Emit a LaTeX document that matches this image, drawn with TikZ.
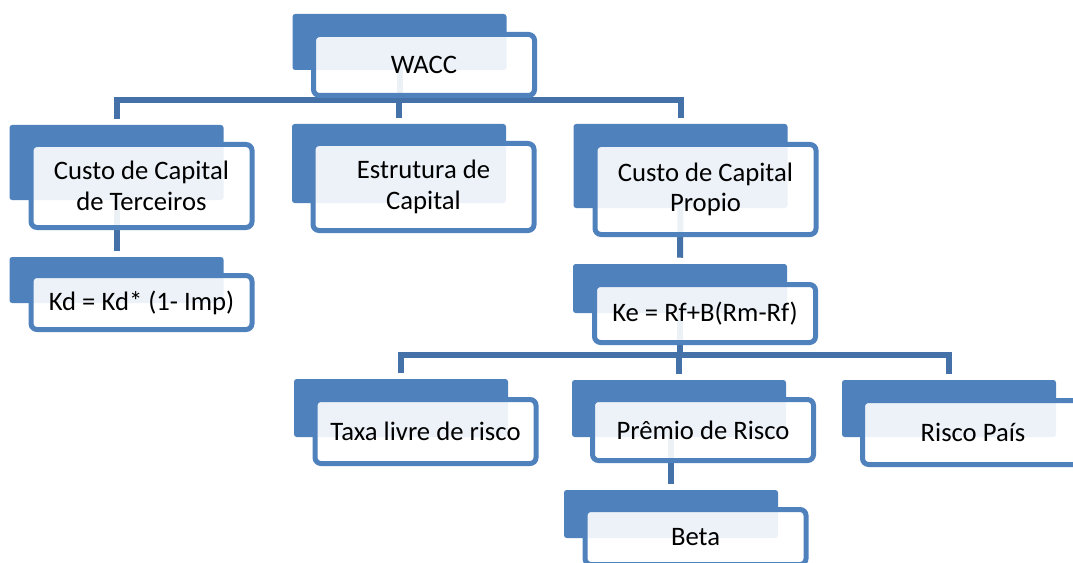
\documentclass[tikz,border=0pt]{standalone}
\usepackage{fontspec}
\setmainfont{Carlito}
\begin{document}
\begin{tikzpicture}[
        x=0.75pt, y=-0.75pt,
    ]

    \definecolor{accent}{RGB}{79,129,189}
    \definecolor{linkblue}{RGB}{68,114,168}

    \tikzstyle{back} = [rectangle, rounded corners=2pt, fill=accent, inner sep=0pt,
                        minimum width=160.5pt];
    \tikzstyle{front} = [rectangle, rounded corners=4.5pt, draw=accent, line width=3.75pt,
                         fill=white, fill opacity=0.9, text opacity=1, align=center,
                         minimum width=165.75pt, inner sep=0pt,
                         font=\fontsize{20}{23}\selectfont];
    \tikzstyle{link} = [draw=linkblue, line width=4.5pt];

    \useasboundingbox (0,0) rectangle (1073,563);
    \clip (0,0) rectangle (1073,563);

    % Back plates
    \node[back, minimum height=42pt] (wacc-b) at (399.5,42) {};
    \node[back, minimum height=56.25pt] (terc-b) at (116.5,162.5) {};
    \node[back, minimum height=59.25pt] (estr-b) at (399,163.5) {};
    \node[back, minimum height=63pt] (prop-b) at (680.5,166) {};
    \node[back, minimum height=34.5pt] (kd-b) at (116.5,280) {};
    \node[back, minimum height=36.75pt] (ke-b) at (680,288.5) {};
    \node[back, minimum height=43.5pt] (taxa-b) at (401,408) {};
    \node[back, minimum height=42.75pt] (prem-b) at (679,408.5) {};
    \node[back, minimum height=42.75pt] (risco-b) at (949,408.5) {};
    \node[back, minimum height=36pt] (beta-b) at (671,514) {};

    \coordinate (bar1) at (399.5,100);
    \coordinate (bar2) at (680,355);

    % Links
    \draw[link] (wacc-b.south) -- (bar1);
    \draw[link, shorten <=4.5pt, shorten >=4.5pt] (terc-b.north) |- (bar1) -| (prop-b.north);
    \draw[link, shorten >=4.5pt] (bar1 -| estr-b.north) -- (estr-b.north);
    \draw[link, shorten >=4.5pt] (terc-b.south) -- (kd-b.north);
    \draw[link, shorten >=4.5pt] (prop-b.south) -- (ke-b.north);
    \draw[link] (ke-b.south) -- (bar2);
    \draw[link, shorten <=4.5pt, shorten >=4.5pt] (taxa-b.north) |- (bar2) -| (risco-b.north);
    \draw[link, shorten >=4.5pt] (bar2 -| prem-b.north) -- (prem-b.north);
    \draw[link, shorten >=4.5pt] (beta-b.north |- prem-b.south) -- (beta-b.north);

    % Nodes
    \node[front, minimum height=45.75pt] (wacc) at (424,65) {WACC};
    \node[front, minimum height=62.25pt] (terc) at (141.5,186) {Custo de Capital\\de Terceiros};
    \node[front, minimum height=65.25pt] (estr) at (423.5,187) {Estrutura de\\Capital};
    \node[front, minimum height=67.5pt] (prop) at (705.5,189.5) {Custo de Capital\\Propio};
    \node[front, minimum height=40.5pt] (kd) at (141.5,302.5) {Kd = Kd* (1- Imp)};
    \node[front, minimum height=43.5pt] (ke) at (705,313.5) {Ke = Rf+B(Rm-Rf)};
    \node[front, minimum height=48pt] (taxa) at (425.5,431.5) {Taxa livre de risco};
    \node[front, minimum height=45.75pt] (prem) at (703,430) {Prêmio de Risco};
    \node[front, minimum height=48pt] (risco) at (973,432.5) {Risco País};
    \node[front, minimum height=41.25pt] (beta) at (695.5,537) {Beta};

\end{tikzpicture}
\end{document}
